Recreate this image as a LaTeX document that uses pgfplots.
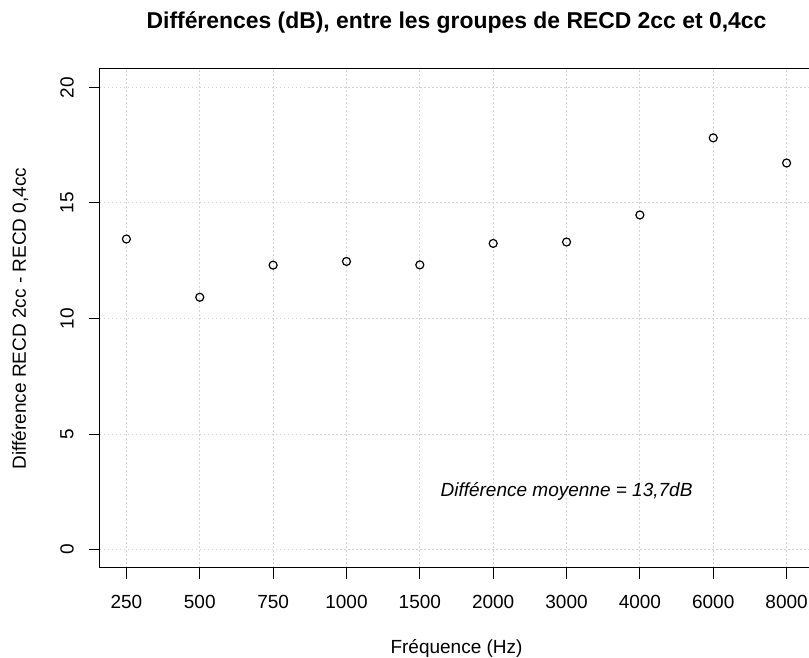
\documentclass[border=0pt]{standalone}
\usepackage{pgfplots}
\pgfplotsset{compat=1.18}
\usepackage{fontspec}
\setmainfont{Liberation Sans}
\definecolor{gridgray}{HTML}{D3D3D3}
\newcommand{\lab}{\fontsize{9.5}{11.5}\selectfont}

\begin{document}
\begin{tikzpicture}
\begin{axis}[
  name=ax, at={(0,0)}, anchor=south west,
  scale only axis, width=356.5pt, height=249.5pt,
  xmin=0.64, xmax=10.36, ymin=-0.8, ymax=20.8,
  xtick={1,...,10},
  xticklabels={250,500,750,1000,1500,2000,3000,4000,6000,8000},
  ytick={0,5,10,15,20},
  tick align=outside, xtick pos=bottom, ytick pos=left,
  major tick length=5.5pt,
  tick style={black, line width=0.5pt},
  axis line style={line width=0.5pt},
  grid=major,
  major grid style={gridgray, line width=0.5pt, dash pattern=on 0.75pt off 1.25pt},
  /pgf/number format/assume math mode=true,
  xticklabel style={font=\lab, anchor=center},
  yticklabel style={font=\lab, anchor=center, rotate=90},
  xticklabel shift=11.5pt, yticklabel shift=11pt,
  title={Différences (dB), entre les groupes de RECD 2cc et 0,4cc},
  title style={font=\bfseries\fontsize{11.45}{13.5}\selectfont, at={(axis description cs:0.5,1.0822)}, anchor=center, yshift=-3.5pt},
  xlabel={Fréquence (Hz)},
  xlabel style={font=\lab, at={(axis description cs:0.5,-0.1603)}, anchor=center},
  ylabel={Différence RECD 2cc - RECD 0,4cc},
  ylabel style={font=\lab, at={(axis description cs:-0.1122,0.5)}, anchor=center, rotate=0},
]
\addplot[only marks, mark=o, mark size=2pt, mark options={line width=0.6pt, black}]
coordinates {
(1,13.44) (2,10.92) (3,12.31) (4,12.47) (5,12.32)
(6,13.25) (7,13.31) (8,14.48) (9,17.82) (10,16.73)
};
\node[font=\itshape\lab] at (axis cs:7,2.5) {Différence moyenne = 13,7dB};
\end{axis}
\pgfresetboundingbox
\path[use as bounding box] ([shift={(-50pt,-45pt)}]ax.south west) rectangle ([shift={(354.5pt,284pt)}]ax.south west);
\end{tikzpicture}
\end{document}
